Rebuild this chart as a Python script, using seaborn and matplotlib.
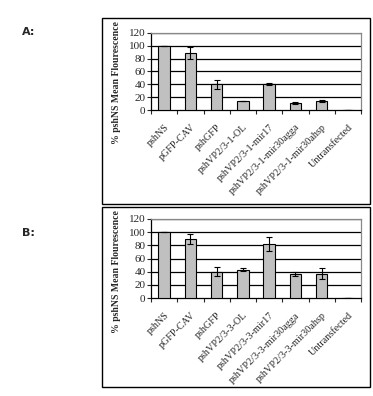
import numpy as np
import pandas as pd
import matplotlib
matplotlib.use("Agg")
import matplotlib.pyplot as plt
import seaborn as sns
from matplotlib.patches import Rectangle

## Data
labels_a = ["pshNS", "pGFP-CAV", "pshGFP", "pshVP2/3-1-OL", "pshVP2/3-1-mir17",
            "pshVP2/3-1-mir30agga", "pshVP2/3-1-mir30ahsp", "Untransfected"]
values_a = [100, 89, 40, 14, 40, 11, 14, 0]
errors_a = [0, 9, 7, 0, 1.5, 1, 2, 0]

labels_b = ["pshNS", "pGFP-CAV", "pshGFP", "pshVP2/3-3-OL", "pshVP2/3-3-mir17",
            "pshVP2/3-3-mir30agga", "pshVP2/3-3-mir30ahsp", "Untransfected"]
values_b = [100, 90, 40, 43, 82, 36, 37, 0]
errors_b = [0, 8, 7, 2, 11, 3, 8, 0]

y_ticks = [0, 20, 40, 60, 80, 100, 120]
ylabel = "% pshNS Mean Flourescence"

sns.set_style("white")
plt.rcParams["font.family"] = ["Liberation Serif", "DejaVu Serif"]

fig = plt.figure(figsize=(3.73, 3.96), dpi=100)

## Panel frames
fig.patches.append(Rectangle((0.273, 0.485), 0.718, 0.470, transform=fig.transFigure,
                             fill=False, edgecolor="black", linewidth=1.0))
fig.patches.append(Rectangle((0.273, 0.022), 0.718, 0.455, transform=fig.transFigure,
                             fill=False, edgecolor="black", linewidth=1.0))

fig.text(0.058, 0.912, "A:", fontsize=8, fontweight="bold", family="DejaVu Sans")
fig.text(0.058, 0.405, "B:", fontsize=8, fontweight="bold", family="DejaVu Sans")


def draw_panel(rect, labels, values, errors, label_y):
    ax = fig.add_axes(rect)
    df = pd.DataFrame({"label": labels, "value": values})
    sns.barplot(data=df, x="label", y="value", color="#c0c0c0", edgecolor="black",
                linewidth=0.8, width=0.44, errorbar=None, saturation=1, ax=ax, zorder=3)
    ax.errorbar(np.arange(len(labels)), values, yerr=errors, fmt="none",
                ecolor="black", elinewidth=0.8, capsize=2, capthick=0.8, zorder=4)
    ax.set_ylim(0, 120)
    ax.set_xlim(-0.5, len(labels) - 0.5)
    ax.set_yticks(y_ticks)
    for t in y_ticks[1:]:
        ax.axhline(t, color="black", linewidth=0.9, zorder=1)
    ax.set_xticks(np.arange(len(labels) + 1) - 0.5, minor=True)
    ax.set_xticks(np.arange(len(labels)))
    ax.set_xticklabels(labels, rotation=45, ha="right", rotation_mode="anchor", fontsize=7.3)
    ax.tick_params(axis="x", which="major", length=0, pad=9)
    ax.tick_params(axis="x", which="minor", length=3, width=0.8, direction="out", bottom=True)
    ax.tick_params(axis="y", length=3, width=0.8, direction="out", left=True,
                   labelsize=8, pad=1)
    ax.set_xlabel("")
    ax.set_ylabel(ylabel, fontsize=7, fontweight="heavy")
    ax.yaxis.set_label_coords(-0.145, label_y)
    ax.spines["left"].set_color("black")
    ax.spines["bottom"].set_color("black")
    ax.spines["top"].set_color("#888888")
    ax.spines["right"].set_color("#888888")
    for s in ax.spines.values():
        s.set_linewidth(0.9)
    return ax


draw_panel([0.405, 0.722, 0.563, 0.195], labels_a, values_a, errors_a, 0.35)
draw_panel([0.405, 0.247, 0.563, 0.200], labels_b, values_b, errors_b, 0.33)

plt.savefig("out.png", dpi=100)
